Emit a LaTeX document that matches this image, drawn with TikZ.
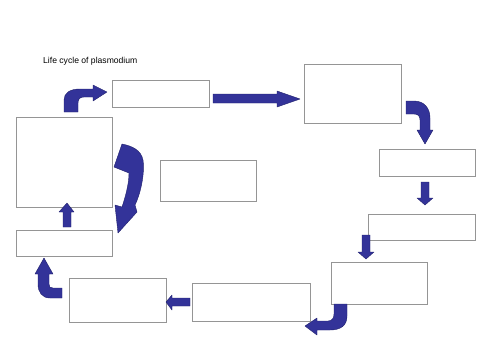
\documentclass[tikz,border=0pt]{standalone}
\usepackage{fontspec}
\setmainfont{Liberation Sans}
\usepackage{tikz}
\usetikzlibrary{positioning}

\definecolor{boxgray}{HTML}{959595}
\definecolor{arrfill}{HTML}{333399}
\definecolor{arredge}{HTML}{1F1F6B}

\begin{document}
\begin{tikzpicture}[
  x=1pt, y=-1pt,
  box/.style={draw=boxgray, line width=0.8pt, fill=white, inner sep=0pt, outer sep=0pt, anchor=north west},
  blk/.style={fill=arrfill, draw=arredge, line width=0.4pt, line join=round},
  ttl/.style={font=\fontsize{8.6}{10}\selectfont, inner sep=0pt, anchor=base west}
]
\useasboundingbox (0,0) rectangle (500,354);

% ---------- Title ----------
\node[ttl] (title) at (43,63) {Life cycle of plasmodium};

% ---------- Stage boxes ----------
\node[box, minimum width=97pt, minimum height=27pt] (topmid)   at (112,80)  {};
\node[box, minimum width=97pt, minimum height=59pt] (topright) at (304,64)  {};
\node[box, minimum width=96pt, minimum height=90pt] (leftbig)  at (16,117)  {};
\node[box, minimum width=96pt, minimum height=41pt] (side)     at (160,160) {};
\node[box, minimum width=96pt, minimum height=27pt] (right1)   at (379,149) {};
\node[box, minimum width=107pt, minimum height=26pt] (right2)  at (368,214) {};
\node[box, minimum width=96pt, minimum height=42pt] (right3)   at (331,262) {};
\node[box, minimum width=118pt, minimum height=38pt] (bottom1) at (192,283) {};
\node[box, minimum width=97pt, minimum height=44pt] (bottom2)  at (69,278)  {};
\node[box, minimum width=96pt, minimum height=26pt] (leftlow)  at (16,230)  {};

% ---------- Block arrows round the cycle ----------
% left box up and over to the top box
\draw[blk] (64,112) -- (64,100) .. controls (64,93) and (70,89) .. (80,89) -- (93,89)
  -- (93,85) -- (107,92) -- (93,101) -- (93,97) -- (84,97)
  .. controls (80,97) and (78,99) .. (78,103) -- (78,112) -- cycle;
% top box to top right box
\draw[blk] (213,94) -- (277,94) -- (277,91) -- (300,99) -- (277,107) -- (277,103) -- (213,103) -- cycle;
% top right box down to first right box
\draw[blk] (406,101) -- (414,101) .. controls (424,101) and (430,108) .. (430,118) -- (430,130)
  -- (433,130) -- (425,144) -- (417,130) -- (420,130) -- (420,120)
  .. controls (420,116) and (418,114) .. (414,114) -- (406,114) -- cycle;
% right column downwards
\draw[blk] (421,182) -- (429,182) -- (429,198) -- (433,198) -- (425,205) -- (417,198) -- (421,198) -- cycle;
\draw[blk] (362,235) -- (370,235) -- (370,252) -- (374,252) -- (366,259) -- (358,252) -- (362,252) -- cycle;
% lower right box round to the bottom row
\draw[blk] (334,304) -- (347,304) -- (347,316) .. controls (347,326) and (340,330) .. (330,330) -- (317,330)
  -- (317,335) -- (305,326) -- (317,318) -- (317,321) -- (328,321)
  .. controls (332,321) and (334,318) .. (334,314) -- cycle;
% bottom row leftwards
\draw[blk] (190,298) -- (190,306) -- (172,306) -- (172,310) -- (166,302) -- (172,295) -- (172,298) -- cycle;
% bottom left box up to the low left box
\draw[blk] (62,288) -- (62,298) -- (50,298) .. controls (42,298) and (38,292) .. (38,284) -- (38,274)
  -- (35,274) -- (44,258) -- (53,274) -- (49,274) -- (49,284)
  .. controls (49,287) and (50,288) .. (53,288) -- cycle;
% low left box up to the big left box
\draw[blk] (63,227) -- (71,227) -- (71,212) -- (74,212) -- (67,203) -- (59,212) -- (63,212) -- cycle;

% ---------- Wide curved arrow ----------
\draw[blk] (122,144) .. controls (132,146) and (141,150) .. (143,160)
  .. controls (145,175) and (140,195) .. (135,205) -- (137,212) -- (118,233) -- (115,205) -- (122,207)
  .. controls (126,195) and (129,183) .. (129,173) -- (114,167) -- cycle;
\end{tikzpicture}
\end{document}
